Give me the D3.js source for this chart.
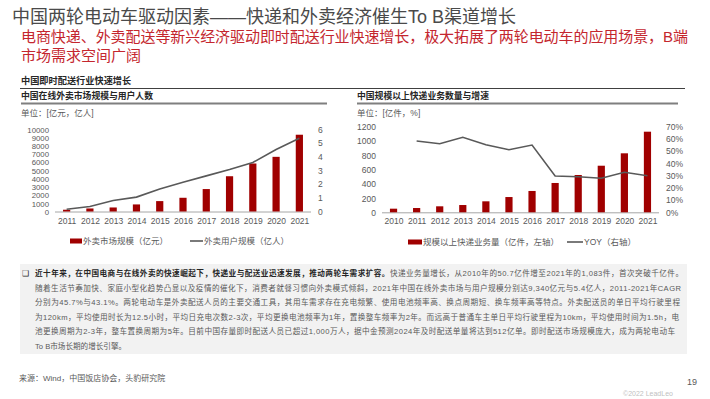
<!DOCTYPE html>
<html>
<head>
<meta charset="utf-8">
<script src="https://cdn.jsdelivr.net/npm/d3@7"></script>
<style>
  body { margin: 0; background: #fff; }
  svg { display: block; font-family: "Liberation Sans", "Noto Sans CJK SC", sans-serif; }
</style>
</head>
<body>
<svg id="page" width="710" height="399"></svg>
<script>
// left chart: takeaway market
var takeawayYears = ["2011","2012","2013","2014","2015","2016","2017","2018","2019","2020","2021"]
var takeawayMarket = [217, 370, 490, 860, 1265, 1670, 2730, 4290, 5840, 6650, 9340]   // 亿元
var takeawayUsers = [0.17, 0.37, 0.8, 1.05, 1.64, 2.13, 2.6, 3.06, 3.58, 4.53, 5.34]  // 亿人
var leftTicks = [0,1000,2000,3000,4000,5000,6000,7000,8000,9000,10000]
var leftRightTicks = [0,1,2,3,4,5,6]

// right chart: express volume
var expressYears = ["2010","2011","2012","2013","2014","2015","2016","2017","2018","2019","2020","2021"]
var expressVolume = [50.7, 60, 84, 102, 154, 214, 299, 411, 523, 653, 827, 1130]  // 亿件
var expressYoy = [null, 58.3, 56.1, 61.3, 55.3, 51.2, 55.0, 29.7, 29.1, 27.8, 32.7, 29.9] // %
var expLeftTicks = [0,200,400,600,800,1000,1200]
var expRightTicks = [0,10,20,30,40,50,60,70]

var bodyLines = [
  "随着生活节奏加快、家庭小型化趋势凸显以及疫情的催化下，消费者就餐习惯向外卖模式倾斜，2021年中国在线外卖市场与用户规模分别达9,340亿元与5.4亿人，2011-2021年CAGR",
  "分别为45.7%与43.1%。两轮电动车是外卖配送人员的主要交通工具，其用车需求存在充电频繁、使用电池频率高、换点周期短、换车频率高等特点。外卖配送员的单日平均行驶里程",
  "为120km，平均使用时长为12.5小时，平均日充电次数2-3次，平均更换电池频率为1年，置换整车频率为2年。而远高于普通车主单日平均行驶里程为10km，平均使用时间为1.5h，电",
  "池更换周期为2-3年，整车置换周期为5年。目前中国存量即时配送人员已超过1,000万人，据中金预测2024年及时配送单量将达到512亿单。即时配送市场规模庞大，成为两轮电动车",
  "To B市场长期的增长引擎。"
]

var red = "#a00000"
var gray = "#595959"
var svg = d3.select("#page")

// header
svg.append("text").attr("x", 12).attr("y", 23).attr("font-size", 18).attr("fill", "#4a4a4a")
  .text("中国两轮电动车驱动因素——快递和外卖经济催生To B渠道增长")
svg.append("text").attr("x", 21).attr("y", 42).attr("font-size", 15).attr("fill", "#c4262e")
  .attr("textLength", 667).attr("lengthAdjust", "spacing")
  .text("电商快递、外卖配送等新兴经济驱动即时配送行业快速增长，极大拓展了两轮电动车的应用场景，B端")
svg.append("text").attr("x", 21).attr("y", 61).attr("font-size", 15).attr("fill", "#c4262e")
  .text("市场需求空间广阔")

svg.append("text").attr("x", 21).attr("y", 84).attr("font-size", 9.2).attr("font-weight", "bold").attr("fill", "#262626")
  .text("中国即时配送行业快速增长")
svg.append("line").attr("x1", 20).attr("x2", 685).attr("y1", 88.5).attr("y2", 88.5).attr("stroke", "#404040").attr("stroke-width", 1)

function chartHeader(x, x2, title, unit) {
  svg.append("text").attr("x", x).attr("y", 99).attr("font-size", 8.8).attr("font-weight", "bold").attr("fill", "#262626").text(title)
  svg.append("line").attr("x1", x).attr("x2", x2).attr("y1", 103.5).attr("y2", 103.5).attr("stroke", "#7f7f7f").attr("stroke-width", 2)
  svg.append("text").attr("x", x).attr("y", 116).attr("font-size", 8.5).attr("fill", gray).text(unit)
}
chartHeader(21, 327, "中国在线外卖市场规模与用户人数", "单位：[亿元，亿人]")
chartHeader(357, 678, "中国规模以上快递业务数量与增速", "单位：[亿件，%]")

function drawChart(opt) {
  var xc = d3.scalePoint().domain(opt.cats).range(opt.xRange).padding(0.5)
  var yL = d3.scaleLinear().domain(opt.leftDomain).range([opt.y0, opt.y1])
  var yR = d3.scaleLinear().domain(opt.rightDomain).range([opt.y0, opt.y1])
  var g = svg.append("g")

  var axL = g.append("g").attr("transform", `translate(${opt.xRange[0]},0)`)
    .call(d3.axisLeft(yL).tickValues(opt.leftTicks).tickSize(0).tickPadding(6).tickFormat(d3.format("d")))
  var axR = g.append("g").attr("transform", `translate(${opt.xRange[1]},0)`)
    .call(d3.axisRight(yR).tickValues(opt.rightTicks).tickSize(0).tickPadding(opt.rightPad).tickFormat(opt.rightFormat))
  var axB = g.append("g").attr("transform", `translate(0,${opt.y0})`)
    .call(d3.axisBottom(xc).tickSize(0).tickPadding(6))
  ;[axL, axR, axB].forEach(a => {
    a.selectAll("text").attr("font-size", 8.5).attr("fill", gray).attr("font-family", "Liberation Sans, sans-serif")
    a.select(".domain").remove()
  })
  axL.selectAll("text").attr("font-size", opt.leftFont).attr("dy", "0.35em")
  g.append("line").attr("x1", opt.xRange[0]).attr("x2", opt.xRange[1]).attr("y1", opt.y0 + 0.5).attr("y2", opt.y0 + 0.5)
    .attr("stroke", "#a6a6a6").attr("stroke-width", 1)

  g.selectAll(".bar").data(opt.bars).join("rect").attr("class", "bar")
    .attr("x", (d, i) => xc(opt.cats[i]) - 3.6).attr("width", 7.2)
    .attr("y", d => yL(d)).attr("height", d => yL(0) - yL(d)).attr("fill", red)

  var pts = opt.line.map((v, i) => [opt.cats[i], v]).filter(d => d[1] != null)
  g.append("path").datum(pts)
    .attr("d", d3.line().x(d => xc(d[0])).y(d => yR(d[1])))
    .attr("fill", "none").attr("stroke", gray).attr("stroke-width", 1.6)

  // legend
  var ly = opt.legendY
  g.append("rect").attr("x", opt.legend[0]).attr("y", ly - 2.5).attr("width", opt.legend[1] - opt.legend[0]).attr("height", 5).attr("fill", red)
  g.append("text").attr("x", opt.legend[1] + 1).attr("y", ly + 3).attr("font-size", 8.5).attr("fill", gray).text(opt.barName)
  g.append("line").attr("x1", opt.legend[2]).attr("x2", opt.legend[3]).attr("y1", ly).attr("y2", ly).attr("stroke", gray).attr("stroke-width", 1.6)
  g.append("text").attr("x", opt.legend[3] + 1).attr("y", ly + 3).attr("font-size", 8.5).attr("fill", gray).text(opt.lineName)
}

drawChart({
  cats: takeawayYears, bars: takeawayMarket, line: takeawayUsers,
  xRange: [55, 311], y0: 211.5, y1: 129.3, leftFont: 7.8,
  leftDomain: [0, 10000], rightDomain: [0, 6],
  leftTicks: leftTicks, rightTicks: leftRightTicks, rightPad: 7, rightFormat: d => d,
  legendY: 241, legend: [70, 82, 190, 203],
  barName: "外卖市场规模（亿元）", lineName: "外卖用户规模（亿人）"
})

drawChart({
  cats: expressYears, bars: expressVolume, line: expressYoy,
  xRange: [382, 659], y0: 212.3, y1: 126.7, leftFont: 8.5,
  leftDomain: [0, 1200], rightDomain: [0, 70],
  leftTicks: expLeftTicks, rightTicks: expRightTicks, rightPad: 7, rightFormat: d => d + "%",
  legendY: 242, legend: [408, 422, 567, 583],
  barName: "规模以上快递业务量（亿件，左轴）", lineName: "YOY（右轴）"
})

// commentary box
svg.append("rect").attr("x", 20).attr("y", 264).attr("width", 667).attr("height", 90).attr("fill", "#f2f2f2")
svg.append("text").attr("x", 22).attr("y", 276).attr("font-size", 8).attr("fill", "#262626").text("❑")
var first = svg.append("text").attr("x", 35).attr("y", 276).attr("font-size", 7.6)
  .attr("textLength", 648).attr("lengthAdjust", "spacing")
first.append("tspan").attr("font-weight", "bold").attr("fill", "#262626")
  .text("近十年来，在中国电商与在线外卖的快速崛起下，快递业与配送业迅速发展，推动两轮车需求扩容。")
first.append("tspan").attr("fill", gray)
  .text("快递业务量增长，从2010年的50.7亿件增至2021年的1,083件，首次突破千亿件。")
bodyLines.forEach((t, i) => {
  var el = svg.append("text").attr("x", 35).attr("y", 290.5 + i * 14.5).attr("font-size", 7.6).attr("fill", gray).text(t)
  if (i < 4) el.attr("textLength", [646, 645, 644, 640][i]).attr("lengthAdjust", "spacing")
})

svg.append("text").attr("x", 19).attr("y", 381).attr("font-size", 8).attr("fill", gray).text("来源：Wind，中国饭店协会，头豹研究院")
svg.append("text").attr("x", 687).attr("y", 385).attr("font-size", 9).attr("fill", gray).text("19")
svg.append("text").attr("x", 623).attr("y", 396).attr("font-size", 7).attr("fill", "#bfbfbf").text("©2022 LeadLeo")
</script>
</body>
</html>
